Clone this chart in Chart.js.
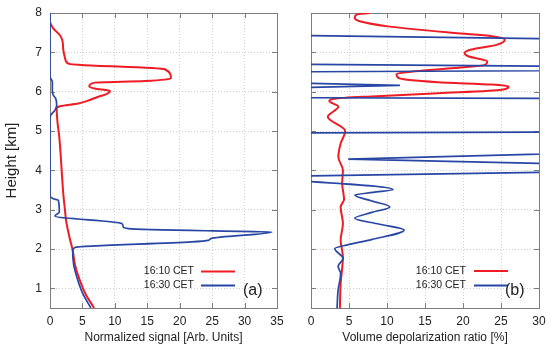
<!DOCTYPE html>
<html>
<head>
<meta charset="utf-8">
<script src="https://cdn.jsdelivr.net/npm/chart.js@4.4.1/dist/chart.umd.min.js"></script>
<style>
  html, body { margin: 0; padding: 0; background: #fff; }
  canvas { position: absolute; top: 0; }
  #signalChart { left: 0; }
  #depolChart { left: 290px; }
</style>
</head>
<body>
<canvas id="signalChart" width="290" height="351"></canvas>
<canvas id="depolChart" width="260" height="351"></canvas>
<script>
// tick labels
const heightTicks = [1, 2, 3, 4, 5, 6, 7, 8];
const signalTicks = [0, 5, 10, 15, 20, 25, 30, 35];
const depolTicks = [0, 5, 10, 15, 20, 25, 30];
const legendLabels = ['16:10 CET', '16:30 CET'];

// (a) normalized signal - 16:10
const sig1610Height = [7.76, 7.61, 7.44, 7.31, 7.06, 6.80, 6.70, 6.68, 6.57, 6.34, 6.27, 6.23, 6.14, 6.08, 6.02, 5.94, 5.87, 5.76, 5.70, 5.63, 5.57, 5.15, 4.90, 4.00, 3.40, 3.00, 2.70, 2.30, 1.97, 1.60, 1.20, 0.85, 0.50];
const sig1610 = [0.0, 0.5, 1.5, 1.9, 2.05, 2.4, 3.1, 4.9, 17.7, 18.65, 14.6, 6.9, 6.06, 6.9, 9.25, 8.7, 7.45, 5.65, 4.37, 1.54, 1.03, 1.2, 1.4, 1.8, 2.05, 2.3, 2.5, 3.0, 3.5, 3.85, 4.6, 5.5, 6.8];

// (a) normalized signal - 16:30
const sig1630Height = [8.0, 6.38, 6.25, 6.04, 5.91, 5.83, 5.66, 5.53, 5.40, 5.35, 3.35, 3.28, 3.24, 2.94, 2.84, 2.65, 2.56, 2.52, 2.46, 2.435, 2.27, 2.22, 2.18, 2.04, 1.97, 1.60, 1.20, 0.85, 0.50];
const sig1630 = [0, 0, 0.36, 0.36, 0.5, 0.87, 1.03, 0.77, 0.1, 0, 0, 0.5, 1.28, 1.44, 0.77, 11.05, 11.3, 12.1, 25.2, 34.2, 24.9, 24.4, 21.8, 3.85, 3.5, 3.65, 4.3, 5.1, 6.3];

// (b) depolarization ratio - 16:10
const dep1610Height = [8.0, 7.96, 7.87, 7.79, 7.66, 7.49, 7.41, 7.32, 7.19, 7.07, 6.98, 6.90, 6.77, 6.68, 6.60, 6.52, 6.45, 6.35, 6.24, 6.18, 6.13, 6.05, 5.96, 5.88, 5.82, 5.76, 5.62, 5.36, 5.0, 4.68, 4.34, 4.0, 3.67, 3.26, 3.07, 2.65, 2.22, 1.8, 1.12, 0.5];
const dep1610 = [7.73, 5.98, 5.76, 6.4, 10.1, 18.9, 23.8, 25.5, 24.4, 21.1, 20.2, 20.7, 23.2, 22.9, 18.9, 13.7, 11.25, 11.5, 16.7, 23.8, 26.0, 25.1, 16.7, 7.96, 3.1, 2.4, 3.6, 2.2, 4.5, 3.9, 3.6, 4.2, 4.1, 4.35, 3.9, 4.2, 3.9, 4.2, 3.9, 3.8];

// (b) depolarization ratio - 16:30, noisy part above 3.8 km (values far out of range)
const dep1630NoiseHeight = [7.50, 7.27, null, 6.739, 6.576, 6.480, 6.34, 6.16, 5.98, 5.86, 5.815, 4.99, 4.936, null, 4.463, 4.285, 4.133, 3.976, 3.83];
const dep1630Noise = [-30, 60, null, -30, 81, -30, -30, 11.7, -30, -30, 60, 60, -30, null, 40, 4.9, 40, 40, -9];
// (b) depolarization ratio - 16:30, below 3.8 km
const dep1630Height = [3.83, 3.51, 3.44, 3.37, 3.22, 3.07, 2.93, 2.78, 2.63, 2.48, 2.24, 2.11, 2.01, 1.76, 1.56, 1.38, 0.95, 0.5];
const dep1630 = [-9, 10.8, 8.2, 5.76, 8.0, 10.37, 8.0, 5.76, 9.0, 12.26, 7.96, 4.9, 3.12, 4.22, 3.56, 3.9, 3.56, 3.43];

const RED = '#ee1c24';
const BLUE = '#2846a3';

Chart.defaults.font.family = '"Liberation Sans", Arial, sans-serif';
Chart.defaults.color = '#222';

function toPoints(xs, hs) {
    return hs.map((h, i) => ({ x: xs[i], y: h }));
}

// gnuplot-like frame, inward ticks and legend
const gnuFrame = {
    id: 'gnuFrame',
    beforeDatasetsDraw(chart) {
        const { ctx, chartArea: a, scales } = chart;
        ctx.save();
        ctx.strokeStyle = '#7d7d7d';
        ctx.lineWidth = 1;
        ctx.beginPath();
        scales.x.ticks.forEach(t => {
            const px = Math.round(scales.x.getPixelForValue(t.value)) + 0.5;
            ctx.moveTo(px, a.bottom); ctx.lineTo(px, a.bottom - 5);
            ctx.moveTo(px, a.top); ctx.lineTo(px, a.top + 5);
        });
        scales.y.ticks.forEach(t => {
            const py = Math.round(scales.y.getPixelForValue(t.value)) + 0.5;
            ctx.moveTo(a.left, py); ctx.lineTo(a.left + 5, py);
            ctx.moveTo(a.right, py); ctx.lineTo(a.right - 5, py);
        });
        ctx.stroke();
        ctx.strokeRect(Math.round(a.left) + 0.5, Math.round(a.top) + 0.5, Math.round(a.width), Math.round(a.height));
        ctx.restore();
    },
    afterDatasetsDraw(chart, args, opts) {
        const ctx = chart.ctx;
        ctx.save();
        ctx.font = '10.5px "Liberation Sans", Arial, sans-serif';
        ctx.textBaseline = 'middle';
        opts.rows.forEach(r => {
            ctx.fillStyle = '#222';
            ctx.textAlign = 'right';
            ctx.fillText(r.text, opts.textRight, r.y);
            ctx.strokeStyle = r.color;
            ctx.lineWidth = 2;
            ctx.beginPath();
            ctx.moveTo(opts.lineFrom, r.y);
            ctx.lineTo(opts.lineTo, r.y);
            ctx.stroke();
        });
        ctx.font = '16px "Liberation Sans", Arial, sans-serif';
        ctx.textAlign = 'left';
        ctx.fillStyle = '#222';
        ctx.fillText(opts.tag, opts.tagX, opts.tagY);
        ctx.restore();
    }
};

function xAxis(ticksArr, max, title) {
    return {
        type: 'linear',
        min: 0,
        max: max,
        afterBuildTicks: s => { s.ticks = ticksArr.map(v => ({ value: v })); },
        afterFit: s => { s.height = 43; s.paddingLeft = 0; s.paddingRight = 0; },
        ticks: { padding: 6, font: { size: 12 }, color: '#222' },
        grid: { color: '#d0d0d0', drawTicks: false },
        border: { display: false, dash: [1, 2] },
        title: { display: true, text: title, font: { size: 12 }, color: '#222', padding: { top: 0, bottom: 6 } }
    };
}

function yAxis(width, showLabels) {
    return {
        type: 'linear',
        min: 0.5,
        max: 8,
        afterBuildTicks: s => { s.ticks = heightTicks.map(v => ({ value: v })); },
        afterFit: s => { s.width = width; s.paddingTop = 0; s.paddingBottom = 0; },
        ticks: { display: showLabels, padding: 8, font: { size: 12 }, color: '#222' },
        grid: { color: '#d0d0d0', drawTicks: false },
        border: { display: false, dash: [1, 2] },
        title: { display: showLabels, text: 'Height [km]', font: { size: 15 }, color: '#222', padding: { top: 3, bottom: 0 } }
    };
}

const lineStyle = {
    pointRadius: 0,
    borderWidth: 1.8,
    fill: false,
    cubicInterpolationMode: 'monotone'
};

new Chart(document.getElementById('signalChart'), {
    type: 'line',
    data: {
        datasets: [
            { ...lineStyle, label: legendLabels[0], data: toPoints(sig1610, sig1610Height), borderColor: RED, borderWidth: 2, order: 2 },
            { ...lineStyle, label: legendLabels[1], data: toPoints(sig1630, sig1630Height), borderColor: BLUE, borderWidth: 1.7, order: 1 }
        ]
    },
    options: {
        responsive: false,
        animation: false,
        indexAxis: 'y',
        layout: { padding: { top: 13, right: 13, left: 0, bottom: 0 } },
        scales: {
            x: xAxis(signalTicks, 35, 'Normalized signal [Arb. Units]'),
            y: yAxis(50, true)
        },
        plugins: {
            legend: { display: false },
            tooltip: { enabled: false },
            gnuFrame: {
                rows: [
                    { text: legendLabels[0], color: RED, y: 271.5 },
                    { text: legendLabels[1], color: BLUE, y: 285.5 }
                ],
                textRight: 194, lineFrom: 201, lineTo: 235,
                tag: '(a)', tagX: 243, tagY: 291
            }
        }
    },
    plugins: [gnuFrame]
});

new Chart(document.getElementById('depolChart'), {
    type: 'line',
    data: {
        datasets: [
            { ...lineStyle, label: legendLabels[0], data: toPoints(dep1610, dep1610Height), borderColor: RED, borderWidth: 2, order: 3 },
            { ...lineStyle, label: legendLabels[1], data: toPoints(dep1630, dep1630Height), borderColor: BLUE, borderWidth: 1.7, order: 1 },
            { ...lineStyle, label: '', data: toPoints(dep1630Noise, dep1630NoiseHeight), borderColor: BLUE, borderWidth: 1.7,
              cubicInterpolationMode: 'default', tension: 0, spanGaps: false, order: 2 }
        ]
    },
    options: {
        responsive: false,
        animation: false,
        indexAxis: 'y',
        layout: { padding: { top: 13, right: 11, left: 0, bottom: 0 } },
        scales: {
            x: xAxis(depolTicks, 30, 'Volume depolarization ratio [%]'),
            y: yAxis(21, false)
        },
        plugins: {
            legend: { display: false },
            tooltip: { enabled: false },
            gnuFrame: {
                rows: [
                    { text: legendLabels[0], color: RED, y: 271 },
                    { text: legendLabels[1], color: BLUE, y: 285.5 }
                ],
                textRight: 176, lineFrom: 184, lineTo: 218,
                tag: '(b)', tagX: 215, tagY: 291
            }
        }
    },
    plugins: [gnuFrame]
});
</script>
</body>
</html>
